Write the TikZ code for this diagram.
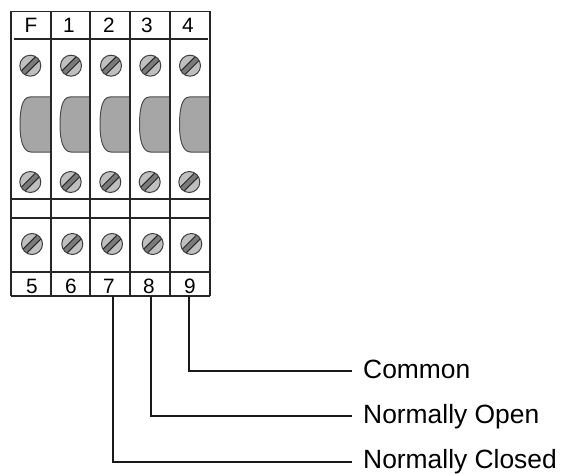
\documentclass[tikz,border=0pt]{standalone}
\usepackage{fontspec}
\setmainfont{Liberation Sans}
\tikzset{
  wire/.style={line width=1.8pt,draw=black!90},
  frameline/.style={line width=1.9pt,draw=black!85},
  lever/.style={fill=black!35,draw=black!70,line width=1pt},
  numlabel/.style={font=\fontsize{20.8}{23}\selectfont,inner sep=0pt,anchor=base},
  wirelabel/.style={font=\fontsize{26.4}{30}\selectfont,inner sep=0pt,anchor=base west},
  pics/screw/.style={code={
    \fill[black!25] (0,0) circle (10.5);
    \begin{scope}
      \clip (0,0) circle (10.5);
      \fill[black!52,rotate=45] (-12,-2.7) rectangle (12,2.7);
      \draw[black!85,line width=1pt,rotate=45] (-12,-2.7) -- (12,-2.7) (-12,2.7) -- (12,2.7);
    \end{scope}
    \draw[black!75,line width=1pt] (0,0) circle (10.5);
  }}
}
\begin{document}
\begin{tikzpicture}[x=1pt,y=-1pt]
\useasboundingbox (0,0) rectangle (561,473);
% levers
\foreach \xa/\xb in {20/50.7,60/90.3,100/130.3,139.5/170,179.5/210}{
  \draw[lever] (\xb,97) -- (\xa+10,97) .. controls (\xa+2,97) and (\xa,110) .. (\xa,125)
     .. controls (\xa,140) and (\xa+3,152) .. (\xa+11,152) -- (\xb,152);
}
% frame
\foreach \x in {11,50.7,90.3,130.3,170,210}{
  \draw[frameline] (\x,11.5) -- (\x,296);
}
\draw[frameline] (11,11.5) -- (210,11.5);
\draw[frameline] (14,39) -- (207.5,39);
\draw[frameline] (11,199) -- (210,199);
\draw[frameline] (11,217.7) -- (210,217.7);
\draw[frameline] (11,271.7) -- (210,271.7);
\draw[frameline] (11,296) -- (210,296);
% screws
\foreach \x in {30.3,71,111,150.3,190}{
  \pic at (\x,65.7) {screw};
}
\foreach \x in {30.3,70.7,110.3,149.7,189.3}{
  \pic at (\x,182) {screw};
}
\foreach \x in {32,72.3,112,152.7,191.3}{
  \pic at (\x,244) {screw};
}
% top labels
\node[numlabel] (tF) at (31,32.7) {F};
\node[numlabel] (t1) at (69,32.7) {1};
\node[numlabel] (t2) at (109,32.7) {2};
\node[numlabel] (t3) at (147,32.7) {3};
\node[numlabel] (t4) at (188,32.7) {4};
% bottom labels
\node[numlabel] (b5) at (32,293) {5};
\node[numlabel] (b6) at (71,293) {6};
\node[numlabel] (b7) at (109,293) {7};
\node[numlabel] (b8) at (149,293) {8};
\node[numlabel] (b9) at (190,293) {9};
% wires
\coordinate (p7) at (112.8,296);
\coordinate (p8) at (150.8,296);
\coordinate (p9) at (188.8,296);
\node[wirelabel] (common) at (363,378.3) {Common};
\node[wirelabel] (open) at (363,423.3) {Normally Open};
\node[wirelabel] (closed) at (363,468.3) {Normally Closed};
\coordinate (e9) at (351.7,370.7);
\coordinate (e8) at (351.7,416);
\coordinate (e7) at (351.7,461.7);
\draw[wire] (p9) |- (e9);
\draw[wire] (p8) |- (e8);
\draw[wire] (p7) |- (e7);
\end{tikzpicture}
\end{document}
